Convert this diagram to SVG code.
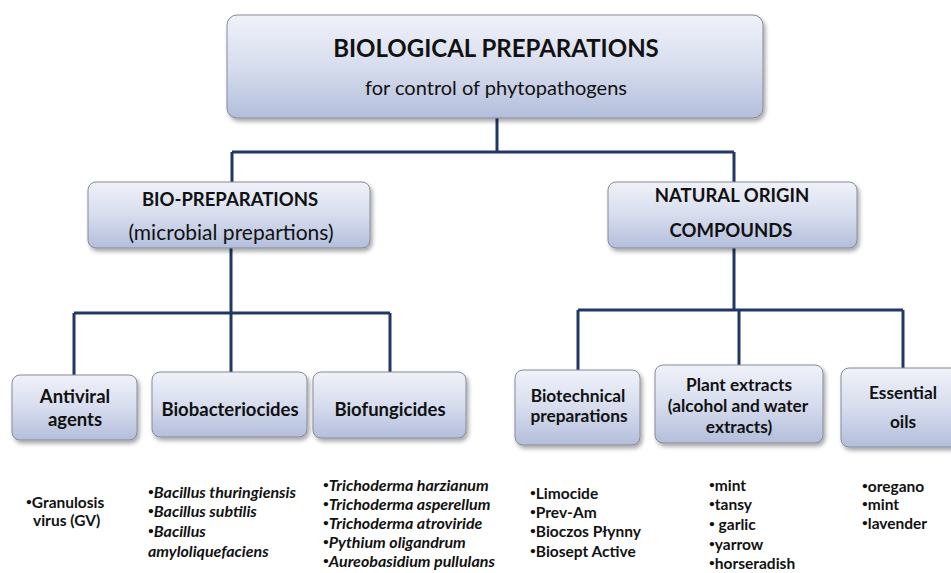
<svg xmlns="http://www.w3.org/2000/svg" width="951" height="573" viewBox="0 0 951 573">
<defs>
<linearGradient id="boxGrad" x1="0" y1="0" x2="0" y2="1">
<stop offset="0" stop-color="#f0f2f9"/>
<stop offset="0.5" stop-color="#d7ddee"/>
<stop offset="1" stop-color="#b3bedb"/>
</linearGradient>
<filter id="shadow" x="-10%" y="-10%" width="125%" height="135%">
<feDropShadow dx="2" dy="3" stdDeviation="2" flood-color="#000" flood-opacity="0.35"/>
</filter>
<style>
.box{fill:url(#boxGrad);stroke:#858a99;stroke-width:1;filter:url(#shadow)}
.conn{fill:none;stroke:#1f3864;stroke-width:3}
text{font-family:Lato,"Open Sans","Liberation Sans",sans-serif;fill:#111}
.title{font-size:24px;font-weight:bold;text-anchor:middle}
.sub{font-size:20px;text-anchor:middle}
.h2{font-size:18.5px;font-weight:bold;text-anchor:middle}
.h2r{font-size:21px;text-anchor:middle}
.h3{font-size:18.5px;font-weight:bold;text-anchor:middle}
.h4{font-size:17.3px;font-weight:bold;text-anchor:middle}
.lst{font-size:15.5px;font-weight:bold}
.it{font-style:italic;font-size:16px}
.bu{font-size:10px;font-style:normal;baseline-shift:3px}
</style>
</defs>
<rect width="951" height="573" fill="#fff"/>
<g id="connectors">
<path class="conn" d="M497 118 V152 M232 152 H734 M232 152 V182 M734 152 V182"/>
<path class="conn" d="M231 248 V313 M74 313 H390 M74 313 V375 M231 313 V372 M390 313 V372"/>
<path class="conn" d="M734 248 V310 M578 310 H903 M578 310 V370 M739 310 V365 M903 310 V368"/>
</g>
<g id="root">
<rect class="box" x="227" y="15" width="536" height="103" rx="10"/>
<text class="title" x="496" y="57">BIOLOGICAL PREPARATIONS</text>
<text class="sub" x="496" y="95">for control of phytopathogens</text>
</g>
<g id="bio">
<rect class="box" x="88" y="182" width="282" height="66" rx="8"/>
<text class="h2" x="230" y="206">BIO-PREPARATIONS</text>
<text class="h2r" x="231" y="240">(microbial prepartions)</text>
</g>
<g id="natural">
<rect class="box" x="608" y="182" width="249" height="66" rx="8"/>
<text class="h2" x="732" y="202">NATURAL ORIGIN</text>
<text class="h2" x="731" y="237">COMPOUNDS</text>
</g>
<g id="antiviral">
<rect class="box" x="12" y="375" width="125" height="65" rx="8"/>
<text class="h3" x="75" y="403">Antiviral</text>
<text class="h3" x="75" y="426">agents</text>
</g>
<g id="biobacteriocides">
<rect class="box" x="152" y="372" width="155" height="65" rx="8"/>
<text class="h3" x="230" y="416">Biobacteriocides</text>
</g>
<g id="biofungicides">
<rect class="box" x="313" y="372" width="153" height="66" rx="8"/>
<text class="h3" x="390" y="416">Biofungicides</text>
</g>
<g id="biotechnical">
<rect class="box" x="515" y="370" width="125" height="75" rx="8"/>
<text class="h4" x="578" y="402">Biotechnical</text>
<text class="h4" x="579" y="422">preparations</text>
</g>
<g id="plant">
<rect class="box" x="655" y="365" width="168" height="78" rx="8"/>
<text class="h4" x="739" y="391">Plant extracts</text>
<text class="h4" x="738" y="412">(alcohol and water</text>
<text class="h4" x="739" y="433">extracts)</text>
</g>
<g id="essential">
<rect class="box" x="841" y="368" width="118" height="79" rx="8"/>
<text class="h4" x="903" y="399">Essential</text>
<text class="h4" x="903" y="428">oils</text>
</g>
<g id="list-antiviral">
<text class="lst" x="26" y="508"><tspan class="bu">•</tspan>Granulosis</text>
<text class="lst" x="33" y="526">virus (GV)</text>
</g>
<g id="list-bacterio">
<text class="lst it" x="148" y="498"><tspan class="bu">•</tspan>Bacillus thuringiensis</text>
<text class="lst it" x="148" y="517"><tspan class="bu">•</tspan>Bacillus subtilis</text>
<text class="lst it" x="148" y="537"><tspan class="bu">•</tspan>Bacillus</text>
<text class="lst it" x="148" y="557">amyloliquefaciens</text>
</g>
<g id="list-fungi">
<text class="lst it" x="323" y="491"><tspan class="bu">•</tspan>Trichoderma harzianum</text>
<text class="lst it" x="323" y="510"><tspan class="bu">•</tspan>Trichoderma asperellum</text>
<text class="lst it" x="323" y="529"><tspan class="bu">•</tspan>Trichoderma atroviride</text>
<text class="lst it" x="323" y="548"><tspan class="bu">•</tspan>Pythium oligandrum</text>
<text class="lst it" x="323" y="567"><tspan class="bu">•</tspan>Aureobasidium pullulans</text>
</g>
<g id="list-biotech">
<text class="lst" x="530" y="499"><tspan class="bu">•</tspan>Limocide</text>
<text class="lst" x="530" y="518"><tspan class="bu">•</tspan>Prev-Am</text>
<text class="lst" x="530" y="537"><tspan class="bu">•</tspan>Bioczos Płynny</text>
<text class="lst" x="530" y="557"><tspan class="bu">•</tspan>Biosept Active</text>
</g>
<g id="list-plant">
<text class="lst" x="709" y="491"><tspan class="bu">•</tspan>mint</text>
<text class="lst" x="709" y="510"><tspan class="bu">•</tspan>tansy</text>
<text class="lst" x="709" y="530"><tspan class="bu">•</tspan> garlic</text>
<text class="lst" x="709" y="550"><tspan class="bu">•</tspan>yarrow</text>
<text class="lst" x="709" y="569"><tspan class="bu">•</tspan>horseradish</text>
</g>
<g id="list-oils">
<text class="lst" x="862" y="492"><tspan class="bu">•</tspan>oregano</text>
<text class="lst" x="862" y="510"><tspan class="bu">•</tspan>mint</text>
<text class="lst" x="862" y="529"><tspan class="bu">•</tspan>lavender</text>
</g>
</svg>
